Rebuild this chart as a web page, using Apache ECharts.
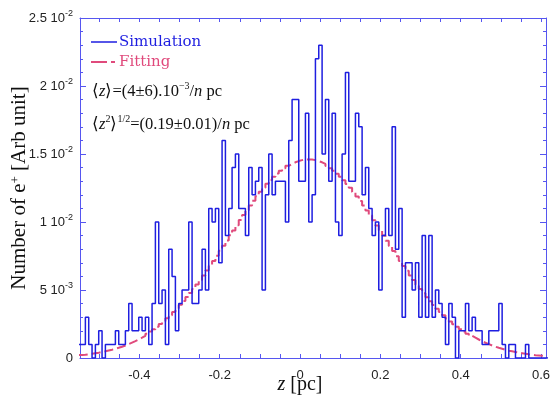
<!DOCTYPE html>
<html><head><meta charset="utf-8">
<script src="https://cdn.jsdelivr.net/npm/echarts@6/dist/echarts.min.js"></script>
<style>html,body{margin:0;padding:0;background:#fff}#c{width:552px;height:401px}</style>
</head><body><div id="c"></div>
<script>
// ---- data ----
const binStart = -0.5509;       // left edge of first histogram bin (pc)
const binWidth = 0.0083;        // bin width (pc)
// simulated histogram, in units of 1e-3
const simulationE3 = [
  1,1,3,1,0,1,2,0,1,1,
  1,2,1,1,2,4,2,2,3,2,
  3,1,4,10,4,5,1,8,6,2,
  4,5,5,10,4,4,5,8,5,11,
  10,11,7,16,9,11,14,15,11,11,
  9,14,12,13,14,5,12,15,12,13,
  13,13,10,16,19,19,13,13,18,10,
  12,22,23,15,19,13,18,10,9,15,
  21,13,13,18,17,12,14,11,9,10,
  5,9,11,9,17,8,11,3,7,7,
  5,7,3,9,3,9,3,5,4,3,
  1,4,3,0,2,2,4,2,3,2,
  2,1,1,2,2,2,4,1,0,1,
  1,0,0,0,1,0,0,0,0,0,
  0
];
// fitted curve (binned), in units of 1e-3
const fittingE3 = [
  0.22,0.24,0.27,0.31,0.35,0.39,0.44,0.49,0.55,0.61,
  0.68,0.75,0.83,0.92,1.02,1.13,1.24,1.36,1.49,1.63,
  1.79,1.94,2.12,2.30,2.50,2.70,2.92,3.15,3.39,3.65,
  3.91,4.19,4.48,4.78,5.08,5.41,5.74,6.07,6.43,6.78,
  7.14,7.52,7.89,8.26,8.64,9.02,9.38,9.77,10.14,10.51,
  10.87,11.22,11.56,11.89,12.22,12.52,12.81,13.08,13.33,13.56,
  13.77,13.96,14.13,14.27,14.39,14.48,14.55,14.59,14.60,14.59,
  14.55,14.48,14.39,14.27,14.12,13.96,13.77,13.55,13.32,13.07,
  12.79,12.51,12.20,11.88,11.55,11.21,10.85,10.49,10.13,9.75,
  9.38,9.00,8.62,8.24,7.87,7.49,7.13,6.77,6.41,6.06,
  5.73,5.39,5.07,4.77,4.46,4.18,3.90,3.63,3.38,3.14,
  2.91,2.69,2.49,2.29,2.11,1.94,1.78,1.63,1.49,1.36,
  1.23,1.12,1.02,0.92,0.83,0.75,0.68,0.61,0.54,0.49,
  0.44,0.39,0.35,0.31,0.27,0.24,0.21,0.19,0.17,0.15,
  0.13
];
const xMin = -0.5477, xMax = 0.6124;
const xLabelValues = [-0.4, -0.2, 0, 0.2, 0.4, 0.6];
const xTickValues = [-0.5,-0.45,-0.4,-0.35,-0.3,-0.25,-0.2,-0.15,-0.1,-0.05,0,0.05,0.1,0.15,0.2,0.25,0.3,0.35,0.4,0.45,0.5,0.55,0.6];
const yTickValues = [0, 0.005, 0.01, 0.015, 0.02, 0.025];
const yTickMantissa = ['0', '5', '1', '1.5', '2', '2.5'];
const yTickExponent = ['', '-3', '-2', '-2', '-2', '-2'];

// ---- build step paths ----
function stepPath(vals) {
  const pts = [];
  vals.forEach((v, i) => {
    const x0 = binStart + i * binWidth, x1 = binStart + (i + 1) * binWidth;
    pts.push([x0, v * 1e-3], [x1, v * 1e-3]);
  });
  return pts;
}

const BLUE = '#1e1ee0', FRAME = '#5656f0', PINK = '#e04a7c';
const chart = echarts.init(document.getElementById('c'), null, {renderer: 'canvas'});

const xBase = {type: 'value', min: xMin, max: xMax, splitLine: {show: false},
  axisLine: {show: true, onZero: false, lineStyle: {color: FRAME, width: 1}},
  axisTick: {show: true, inside: true, length: 4, customValues: xTickValues, lineStyle: {color: FRAME}}};
const yBase = {type: 'value', min: 0, max: 0.025, interval: 0.005, splitLine: {show: false},
  axisLine: {show: true, onZero: false, lineStyle: {color: FRAME, width: 1}},
  axisTick: {show: true, inside: true, length: 6, lineStyle: {color: FRAME}},
  minorTick: {show: true, splitNumber: 5, length: 3, lineStyle: {color: FRAME}}};

const serifRich = {
  t: {fontFamily: 'Liberation Serif', fontSize: 20, fill: '#111', lineHeight: 24},
  i: {fontFamily: 'Liberation Serif', fontSize: 20, fontStyle: 'italic', fill: '#111', lineHeight: 24}
};

chart.setOption({
  animation: false,
  backgroundColor: '#fff',
  grid: {left: 80, right: 6, top: 18, bottom: 43, containLabel: false, outerBoundsMode: 'none'},
  xAxis: [
    Object.assign({}, xBase, {position: 'bottom',
      axisLabel: {show: true, customValues: xLabelValues, margin: 11, color: '#222',
        fontFamily: 'Liberation Sans', fontSize: 13, formatter: v => String(+(+v).toFixed(2))}}),
    Object.assign({}, xBase, {position: 'top', axisLabel: {show: false}})
  ],
  yAxis: [
    Object.assign({}, yBase, {position: 'left',
      axisLabel: {show: true, margin: 7, color: '#222', fontFamily: 'Liberation Sans', fontSize: 13,
        formatter: function (v) {
          const i = yTickValues.findIndex(t => Math.abs(t - v) < 1e-9);
          if (i < 0) return '';
          if (!yTickExponent[i]) return '{m|' + yTickMantissa[i] + '}';
          return '{m|' + yTickMantissa[i] + ' 10}{s|' + yTickExponent[i] + '}';
        },
        rich: {m: {fontFamily: 'Liberation Sans', fontSize: 13, color: '#222', lineHeight: 18},
               s: {fontFamily: 'Liberation Sans', fontSize: 9, color: '#222', lineHeight: 10, verticalAlign: 'top'}}},
      name: 'Number of e{s|+} [Arb unit]', nameLocation: 'middle', nameGap: 50, nameRotate: 90, nameMoveOverlap: false,
      nameTextStyle: {fontFamily: 'Liberation Serif', fontSize: 21, color: '#111',
        rich: {s: {fontFamily: 'Liberation Serif', fontSize: 13, color: '#111', verticalAlign: 'top', lineHeight: 13}}}}),
    Object.assign({}, yBase, {position: 'right', axisLabel: {show: false}})
  ],
  series: [
    {type: 'line', name: 'Fitting', xAxisIndex: 0, yAxisIndex: 0, data: stepPath(fittingE3),
      showSymbol: false, symbol: 'none', clip: true, z: 3,
      lineStyle: {color: PINK, width: 2, type: [9, 4]}},
    {type: 'line', name: 'Simulation', xAxisIndex: 0, yAxisIndex: 0, data: stepPath(simulationE3),
      showSymbol: false, symbol: 'none', clip: true, z: 4,
      lineStyle: {color: BLUE, width: 1.5}}
  ],
  graphic: [
    {type: 'text', x: 300, y: 385, style: {text: '{i|z}{t| [pc]}', align: 'center', verticalAlign: 'middle', rich: serifRich}},
    {type: 'line', shape: {x1: 91, y1: 42, x2: 117, y2: 42}, style: {stroke: BLUE, lineWidth: 1.5}},
    {type: 'text', x: 119, y: 42, style: {text: 'Simulation', fill: BLUE, font: '15px "DejaVu Serif"', verticalAlign: 'middle'}},
    {type: 'line', shape: {x1: 91, y1: 62, x2: 107, y2: 62}, style: {stroke: PINK, lineWidth: 2}},
    {type: 'line', shape: {x1: 111, y1: 62, x2: 115, y2: 62}, style: {stroke: PINK, lineWidth: 2}},
    {type: 'text', x: 119, y: 62, style: {text: 'Fitting', fill: PINK, font: '15px "DejaVu Serif"', verticalAlign: 'middle'}},
    {type: 'text', x: 92, y: 92, style: {
      text: '{t|⟨}{i|z}{t|⟩=(4±6).10}{s|−3}{t|/}{i|n}{t| pc}', verticalAlign: 'middle',
      rich: {t: {fontFamily: 'Liberation Serif', fontSize: 16.5, fill: '#111', lineHeight: 22},
             i: {fontFamily: 'Liberation Serif', fontSize: 16.5, fontStyle: 'italic', fill: '#111', lineHeight: 22},
             s: {fontFamily: 'Liberation Serif', fontSize: 10, fill: '#111', lineHeight: 12, verticalAlign: 'top'}}}},
    {type: 'text', x: 92, y: 125, style: {
      text: '{t|⟨}{i|z}{s|2}{t|⟩}{s|1/2}{t|=(0.19±0.01)/}{i|n}{t| pc}', verticalAlign: 'middle',
      rich: {t: {fontFamily: 'Liberation Serif', fontSize: 16.5, fill: '#111', lineHeight: 22},
             i: {fontFamily: 'Liberation Serif', fontSize: 16.5, fontStyle: 'italic', fill: '#111', lineHeight: 22},
             s: {fontFamily: 'Liberation Serif', fontSize: 10, fill: '#111', lineHeight: 12, verticalAlign: 'top'}}}}
  ]
});
</script></body></html>
